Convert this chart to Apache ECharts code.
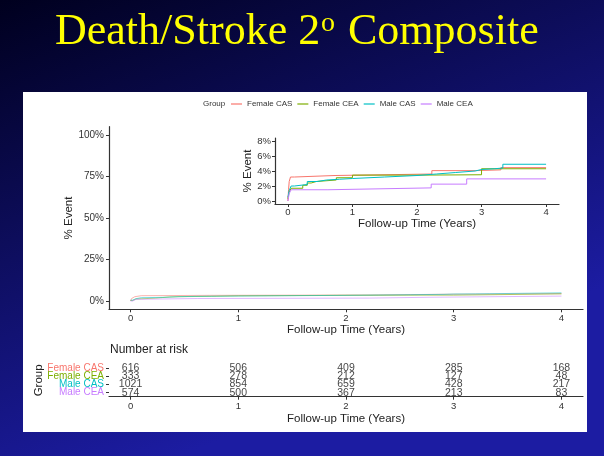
<!DOCTYPE html>
<html><head><meta charset="utf-8">
<script src="https://cdn.jsdelivr.net/npm/echarts@6/dist/echarts.min.js"></script>
<style>html,body{margin:0;padding:0;background:#000030}#c{width:604px;height:456px}</style>
</head><body><div id="c"></div>
<script>
const groups = ['Female CAS', 'Female CEA', 'Male CAS', 'Male CEA'];
const colors = ['#F8766D', '#7CAE00', '#00BFC4', '#C77CFF'];
// cumulative % event (time in years, %)
const femaleCAS = [[0,0],[0.01,1.5],[0.02,2.6],[0.04,3.2],[0.1,3.4],[0.73,3.6],[2.23,4.05],[2.9,4.15],[3.3,4.45],[4,4.45]];
const femaleCEA = [[0,0.3],[0.02,1.2],[0.05,1.7],[0.23,2.1],[0.3,2.4],[0.36,2.6],[0.44,2.8],[0.75,3.1],[1.0,3.45],[2.0,3.5],[3.0,4.3],[4,4.3]];
const maleCAS = [[0,0.5],[0.02,1.4],[0.05,2.0],[0.1,2.2],[0.3,2.6],[0.45,2.8],[0.6,2.9],[0.8,3.0],[1.0,3.2],[1.5,3.4],[2.0,3.6],[2.3,3.8],[2.6,4.0],[2.9,4.2],[3.0,4.3],[3.2,4.4],[3.33,4.9],[4,4.9]];
const maleCEA = [[0,0],[0.02,1.0],[0.05,1.5],[0.62,1.75],[2.22,2.25],[2.77,2.95],[4,2.95]];
const curves = [femaleCAS, femaleCEA, maleCAS, maleCEA];
// number at risk
const riskTimes = [0, 1, 2, 3, 4];
const riskFemaleCAS = [616, 506, 409, 285, 168];
const riskFemaleCEA = [333, 278, 212, 127, 48];
const riskMaleCAS = [1021, 854, 659, 428, 217];
const riskMaleCEA = [574, 500, 367, 213, 83];
const risks = [riskFemaleCAS, riskFemaleCEA, riskMaleCAS, riskMaleCEA];
const mainYTicks = [0, 25, 50, 75, 100];
const insetYTicks = [0, 2, 4, 6, 8];
const xTicks = [0, 1, 2, 3, 4];

const FONT = 'Liberation Sans, Arial, sans-serif';
const axisCol = '#333';
function xAxisCfg(gridIndex, name, fs, gap, margin) {
  return {
    type: 'value', gridIndex, min: -0.2, max: 4.2,
    name, nameLocation: 'middle', nameGap: gap,
    nameTextStyle: { fontFamily: FONT, fontSize: 11.5, color: '#222' },
    axisLine: { show: true, onZero: false, lineStyle: { color: axisCol, width: 1.2 } },
    axisTick: { show: true, length: 3, customValues: xTicks, lineStyle: { color: axisCol } },
    axisLabel: { customValues: xTicks, fontFamily: FONT, fontSize: fs, color: '#333', margin },
    splitLine: { show: false }
  };
}
const rich = {};
groups.forEach((g, i) => { rich['g' + i] = { color: colors[i], fontFamily: FONT, fontSize: 10 }; });

const series = [];
curves.forEach((d, i) => {
  series.push({ name: groups[i], type: 'line', step: 'end', xAxisIndex: 0, yAxisIndex: 0, data: d,
    showSymbol: false, symbol: 'none', color: colors[i], lineStyle: { width: 1, opacity: 0.55 }, z: 3 });
});
curves.forEach((d, i) => {
  series.push({ name: groups[i], type: 'line', step: 'end', xAxisIndex: 1, yAxisIndex: 1, data: d,
    showSymbol: false, symbol: 'none', color: colors[i], lineStyle: { width: 1 }, z: 4 });
});
risks.forEach((r, i) => {
  series.push({ name: 'risk' + i, type: 'scatter', xAxisIndex: 2, yAxisIndex: 2,
    data: riskTimes.map((t, k) => [t, groups[i], r[k]]), symbolSize: 1,
    itemStyle: { color: 'transparent' },
    label: { show: true, position: 'inside', formatter: p => p.value[2], fontFamily: FONT, fontSize: 10.5, color: '#111' } });
});

const option = {
  animation: false,
  graphic: { elements: [
    { type: 'rect', z: -100, shape: { x: 0, y: 0, width: 604, height: 456 },
      style: { fill: { type: 'linear', x: 0, y: 0, x2: 0.3, y2: 1, colorStops: [{ offset: 0, color: '#00001e' }, { offset: 1, color: '#1c1ca2' }] } } },
    { type: 'rect', z: -99, shape: { x: 23, y: 92, width: 564, height: 340 }, style: { fill: '#ffffff' } },
    { type: 'text', z: 100, left: 55, top: 10, style: { text: 'Death/Stroke 2', fill: '#ffff00', font: '44px "Liberation Serif", "Times New Roman", serif' } },
    { type: 'text', z: 100, left: 321, top: 10, style: { text: 'o', fill: '#ffff00', font: '28px "Liberation Serif", "Times New Roman", serif' } },
    { type: 'text', z: 100, left: 337, top: 10, style: { text: ' Composite', fill: '#ffff00', font: '44px "Liberation Serif", "Times New Roman", serif' } },
    { type: 'text', z: 100, left: 203, top: 100, style: { text: 'Group', fill: '#333', font: '8px ' + FONT } },
    { type: 'text', z: 100, left: 110, top: 344, style: { text: 'Number at risk', fill: '#222', font: '12px ' + FONT } }
  ] },
  legend: {
    data: groups, left: 231, top: 100, padding: 0, icon: 'rect', itemWidth: 11, itemHeight: 1.2, itemGap: 5,
    textStyle: { fontFamily: FONT, fontSize: 8, color: '#333' }
  },
  grid: [
    { left: 109, width: 474, top: 126.7, height: 182.6, outerBoundsMode: 'none', containLabel: false },
    { left: 275, width: 284, top: 138, height: 66, outerBoundsMode: 'none', containLabel: false },
    { left: 109, width: 474, top: 364, height: 32.7, outerBoundsMode: 'none', containLabel: false }
  ],
  xAxis: [
    xAxisCfg(0, 'Follow-up Time (Years)', 9.5, 13, 4),
    xAxisCfg(1, 'Follow-up Time (Years)', 9.5, 13, 3),
    xAxisCfg(2, 'Follow-up Time (Years)', 9.5, 15, 5)
  ],
  yAxis: [
    { type: 'value', gridIndex: 0, min: -5, max: 105, name: '% Event', nameLocation: 'middle', nameGap: 34, nameMoveOverlap: false,
      nameTextStyle: { fontFamily: FONT, fontSize: 11.5, color: '#222' },
      axisLine: { show: true, onZero: false, lineStyle: { color: axisCol, width: 1.2 } },
      axisTick: { show: true, length: 3, customValues: mainYTicks, lineStyle: { color: axisCol } },
      axisLabel: { customValues: mainYTicks, formatter: v => v + '%', fontFamily: FONT, fontSize: 10, color: '#333', margin: 5 },
      splitLine: { show: false } },
    { type: 'value', gridIndex: 1, min: -0.4, max: 8.4, name: '% Event', nameLocation: 'middle', nameGap: 20,
      nameTextStyle: { fontFamily: FONT, fontSize: 11.5, color: '#222' },
      axisLine: { show: true, onZero: false, lineStyle: { color: axisCol, width: 1.2 } },
      axisTick: { show: true, length: 3, customValues: insetYTicks, lineStyle: { color: axisCol } },
      axisLabel: { customValues: insetYTicks, formatter: v => v + '%', fontFamily: FONT, fontSize: 9.5, color: '#333', margin: 4 },
      splitLine: { show: false } },
    { type: 'category', gridIndex: 2, data: groups, inverse: true, name: 'Group', nameLocation: 'middle', nameGap: 64, nameMoveOverlap: false,
      nameTextStyle: { fontFamily: FONT, fontSize: 11.5, color: '#222' },
      axisLine: { show: false, onZero: false },
      axisTick: { show: true, length: 3, alignWithLabel: true, interval: 0, lineStyle: { color: axisCol } },
      axisLabel: { fontFamily: FONT, fontSize: 10, margin: 5, interval: 0, hideOverlap: false, formatter: (v, i) => '{g' + i + '|' + v + '}', rich },
      splitLine: { show: false } }
  ],
  series
};
const chart = echarts.init(document.getElementById('c'), null, { renderer: 'canvas' });
chart.setOption(option);
</script></body></html>
